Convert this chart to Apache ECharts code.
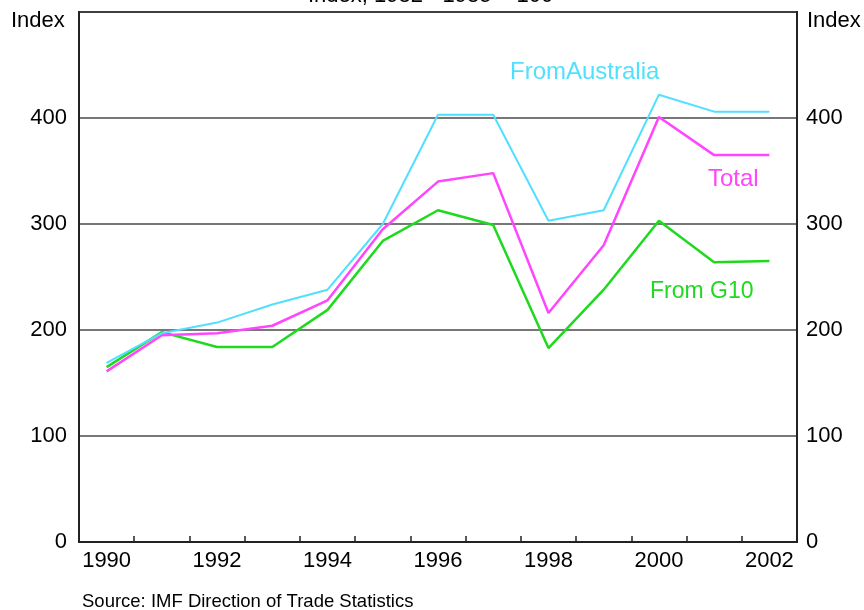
<!DOCTYPE html>
<html>
<head>
<meta charset="utf-8">
<script src="https://cdn.jsdelivr.net/npm/echarts@6/dist/echarts.min.js"></script>
<style>html,body{margin:0;padding:0;background:#fff;}#c{width:864px;height:610px;}</style>
</head>
<body>
<div id="c"></div>
<script>
var years = ['1990','1991','1992','1993','1994','1995','1996','1997','1998','1999','2000','2001','2002'];
var fromAustralia = [169, 197, 207, 224, 238, 300, 403, 403, 303, 313, 422, 406, 406];
var total = [161, 195, 197, 204, 228, 295, 340, 348, 216, 280, 401, 365, 365];
var fromG10 = [165, 198, 184, 184, 219, 284, 313, 299, 183, 238, 303, 264, 265];
var yTicks = [0, 100, 200, 300, 400];

var FONT = 'Liberation Sans, Arial, sans-serif';
var chart = echarts.init(document.getElementById('c'), null, {renderer: 'canvas'});

function yLabel(v) { return yTicks.indexOf(v) >= 0 ? String(v) : ''; }

var yCommon = {
  type: 'value', min: 0, max: 500, interval: 100,
  axisLine: {show: true, lineStyle: {color: '#222', width: 2}},
  axisTick: {show: false},
  splitLine: {show: true, lineStyle: {color: '#4a4a4a', width: 1.5}},
  axisLabel: {color: '#000', fontFamily: FONT, fontSize: 22, formatter: yLabel}
};

chart.setOption({
  animation: false,
  backgroundColor: '#fff',
  grid: {left: 79, right: 67, top: 12, bottom: 68, show: true, borderColor: '#222', borderWidth: 2},
  xAxis: {
    type: 'category', data: years, boundaryGap: true,
    axisLine: {lineStyle: {color: '#222', width: 2}},
    axisTick: {show: true, inside: true, length: 6, interval: 0, lineStyle: {color: '#222', width: 1.5}},
    axisLabel: {interval: 1, color: '#000', fontFamily: FONT, fontSize: 22, margin: 8},
    splitLine: {show: false}
  },
  yAxis: [
    Object.assign({position: 'left'}, yCommon, {axisLabel: Object.assign({}, yCommon.axisLabel, {margin: 12})}),
    Object.assign({position: 'right'}, yCommon, {splitLine: {show: false}, axisLabel: Object.assign({}, yCommon.axisLabel, {margin: 9})})
  ],
  series: [
    {name: 'From G10', type: 'line', data: fromG10, showSymbol: false, lineStyle: {color: '#1fd91f', width: 2.5}, itemStyle: {color: '#1fd91f'}},
    {name: 'Total', type: 'line', data: total, showSymbol: false, lineStyle: {color: '#ff45ff', width: 2.5}, itemStyle: {color: '#ff45ff'}},
    {name: 'From Australia', type: 'line', data: fromAustralia, showSymbol: false, lineStyle: {color: '#50e0ff', width: 2}, itemStyle: {color: '#50e0ff'}}
  ],
  graphic: [
    {type: 'text', left: 308, top: -15, style: {text: 'Index, 1982 - 1985 = 100', font: '22px ' + FONT, fill: '#000'}},
    {type: 'text', left: 11, top: 10, style: {text: 'Index', font: '22px ' + FONT, fill: '#000'}},
    {type: 'text', left: 807, top: 10, style: {text: 'Index', font: '22px ' + FONT, fill: '#000'}},
    {type: 'text', left: 510, top: 60, style: {text: 'FromAustralia', font: '24px ' + FONT, fill: '#50e0ff'}},
    {type: 'text', left: 708, top: 167, style: {text: 'Total', font: '24px ' + FONT, fill: '#ff45ff'}},
    {type: 'text', left: 650, top: 280, style: {text: 'From G10', font: '23px ' + FONT, fill: '#1fd91f'}},
    {type: 'text', left: 82, top: 592, style: {text: 'Source: IMF Direction of Trade Statistics', font: '18.5px ' + FONT, fill: '#000'}}
  ]
});
</script>
</body>
</html>
